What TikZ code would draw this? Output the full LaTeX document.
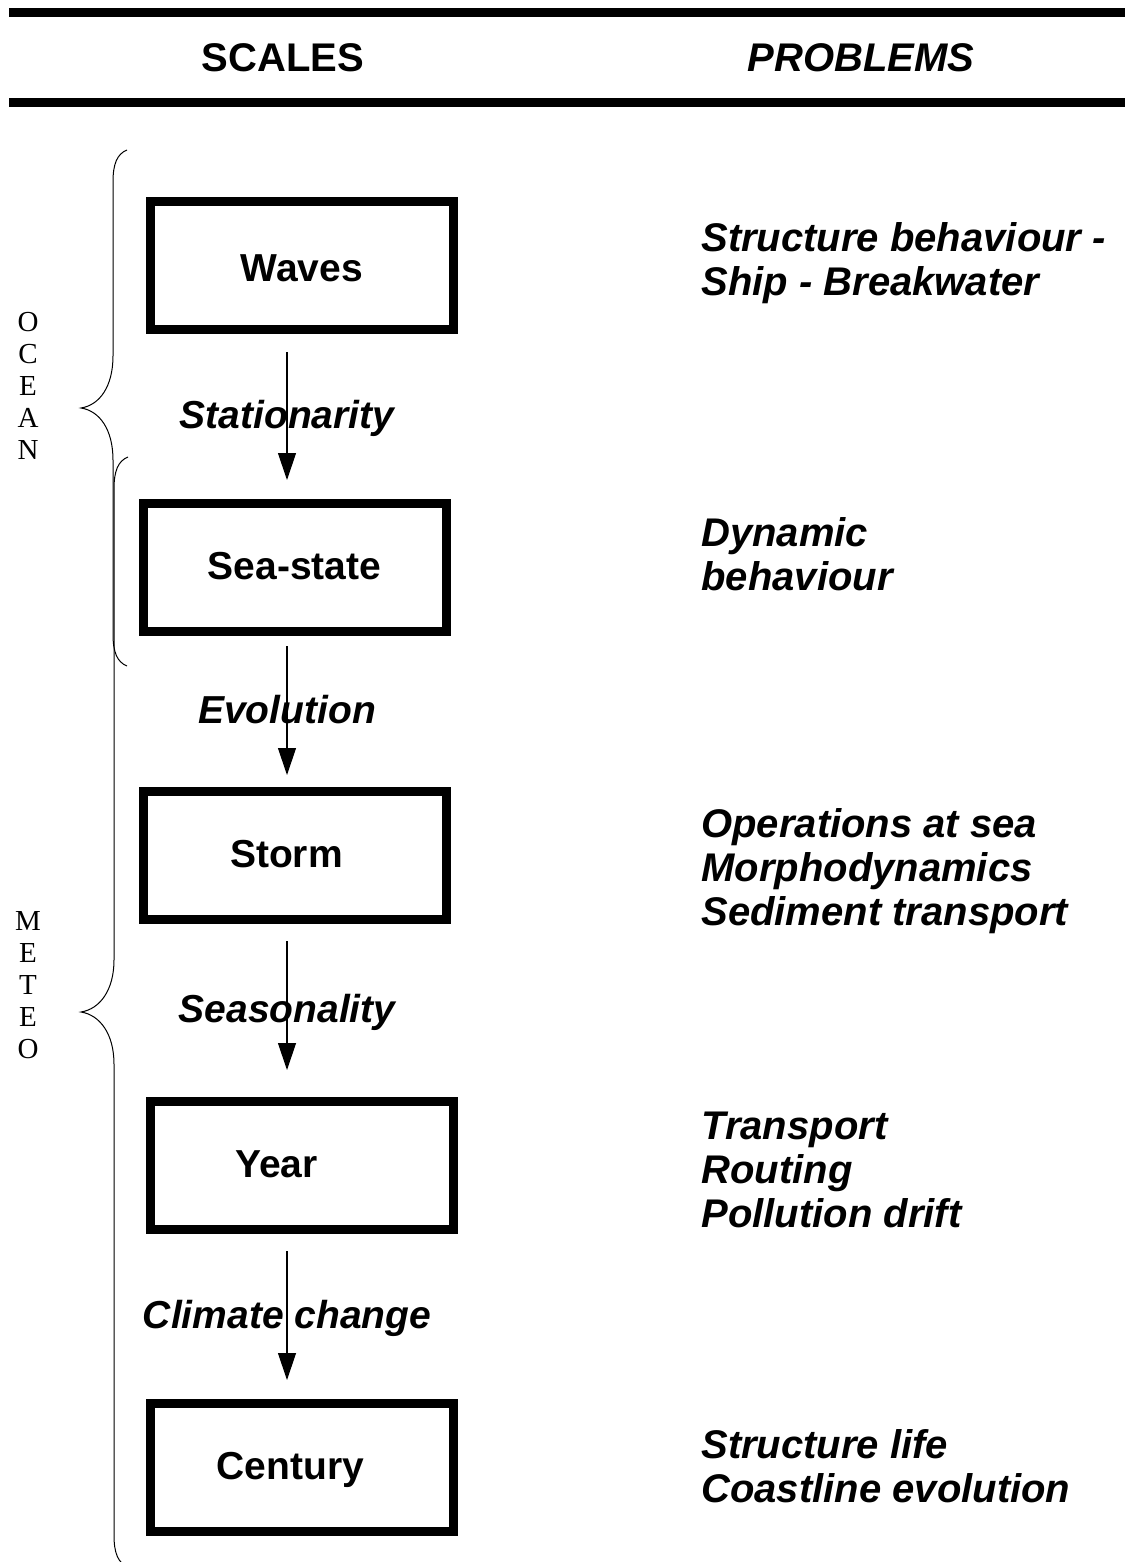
\documentclass[tikz,border=0pt]{standalone}
\usepackage{fontspec}
\setmainfont{Liberation Sans}
\newfontfamily\letterfont{Liberation Serif}
\usetikzlibrary{arrows.meta}

\tikzset{
  scalebox/.style={draw, line width=4.5pt, minimum width=151.5pt,
    minimum height=64pt, inner sep=0pt},
  scalename/.style={font=\fontsize{19.5pt}{22pt}\selectfont\bfseries,
    anchor=base, inner sep=0pt},
  stepname/.style={font=\fontsize{19.5pt}{22pt}\selectfont\bfseries\itshape,
    anchor=base, inner sep=0pt, yshift=-6pt},
  problem/.style={font=\fontsize{20pt}{22pt}\selectfont\bfseries\itshape,
    align=left, anchor=base west, inner sep=0pt},
  headline/.style={font=\fontsize{20pt}{22pt}\selectfont\bfseries,
    anchor=base, inner sep=0pt},
  tallword/.style={font=\letterfont\fontsize{14.5pt}{16pt}\selectfont,
    align=center, anchor=base, inner sep=0pt},
  flow/.style={line width=0.6pt, -{Triangle[length=13.5pt,width=9pt]}},
  bracket/.style={line width=0.5pt},
}

\begin{document}
\begin{tikzpicture}[x=0.5pt,y=-0.5pt]
      \fill[white] (0,0) rectangle (1125,1562);
      \useasboundingbox (0,0) rectangle (1125,1562);
      % header
      \draw[line width=4.5pt] (9,12.5) -- (1125,12.5);
      \draw[line width=4.5pt] (9,102.5) -- (1125,102.5);
      \node[headline] (scales) at (283,72) {SCALES};
      \node[headline] (problems) at (861,72) {\itshape PROBLEMS};
      % scales
      \node[scalebox] (waves) at (302,265.5) {};
      \node[scalebox] (seastate) at (294.5,567.5) {};
      \node[scalebox] (storm) at (294.5,855.5) {};
      \node[scalebox] (year) at (301.5,1165.5) {};
      \node[scalebox] (century) at (301.5,1467.5) {};
      \node[scalename, yshift=-8pt] (wavestxt) at (waves.center) {Waves};
      \node[scalename, yshift=-6pt] (seastatetxt) at (seastate.center) {Sea-state};
      \node[scalename, xshift=-4pt, yshift=-6pt] (stormtxt) at (storm.center) {Storm};
      \node[scalename, xshift=-12.5pt, yshift=-6pt] (yeartxt) at (year.center) {Year};
      \node[scalename, xshift=-5.5pt, yshift=-6pt] (centurytxt) at (century.center) {Century};
      \coordinate (axis) at (287,0);
      \draw[flow, shorten <=9pt, shorten >=9.5pt] (waves.south -| axis) -- (seastate.north -| axis)
        node[stepname, midway] (stationarity) {Stationarity};
      \draw[flow, shorten <=5pt, shorten >=6pt] (seastate.south -| axis) -- (storm.north -| axis)
        node[stepname, midway] (evolution) {Evolution};
      \draw[flow, shorten <=8.5pt, shorten >=13.5pt] (storm.south -| axis) -- (year.north -| axis)
        node[stepname, midway] (seasonality) {Seasonality};
      \draw[flow, shorten <=8.5pt, shorten >=9.5pt] (year.south -| axis) -- (century.north -| axis)
        node[stepname, midway] (climate) {Climate change};
      % problems (placed at the baseline of the last line)
      \node[problem] (p1) at (701,295) {Structure behaviour -\\Ship - Breakwater};
      \node[problem] (p2) at (701,590) {Dynamic\\behaviour};
      \node[problem] (p3) at (701,925) {Operations at sea\\Morphodynamics\\Sediment transport};
      \node[problem] (p4) at (701,1227) {Transport\\Routing\\Pollution drift};
      \node[problem] (p5) at (701,1502) {Structure life\\Coastline evolution};
      % ocean and meteo
      \node[tallword] (ocean) at (28,459) {O\\C\\E\\A\\N};
      \node[tallword] (meteo) at (28,1058) {M\\E\\T\\E\\O};
      \draw[bracket] (127,150) .. controls (117,154) and (113,164) .. (113,182)
        -- (113,356) .. controls (113,386) and (100,405) .. (81,408)
        .. controls (100,411) and (113,430) .. (113,460)
        -- (113,634) .. controls (113,652) and (117,662) .. (127,666);
      \draw[bracket] (128,457) .. controls (118,461) and (114,471) .. (114,489)
        -- (114,960) .. controls (114,990) and (100,1009) .. (81,1012)
        .. controls (100,1015) and (114,1034) .. (114,1064)
        -- (114,1535) .. controls (114,1553) and (118,1563) .. (128,1567);
    \end{tikzpicture}
\end{document}
